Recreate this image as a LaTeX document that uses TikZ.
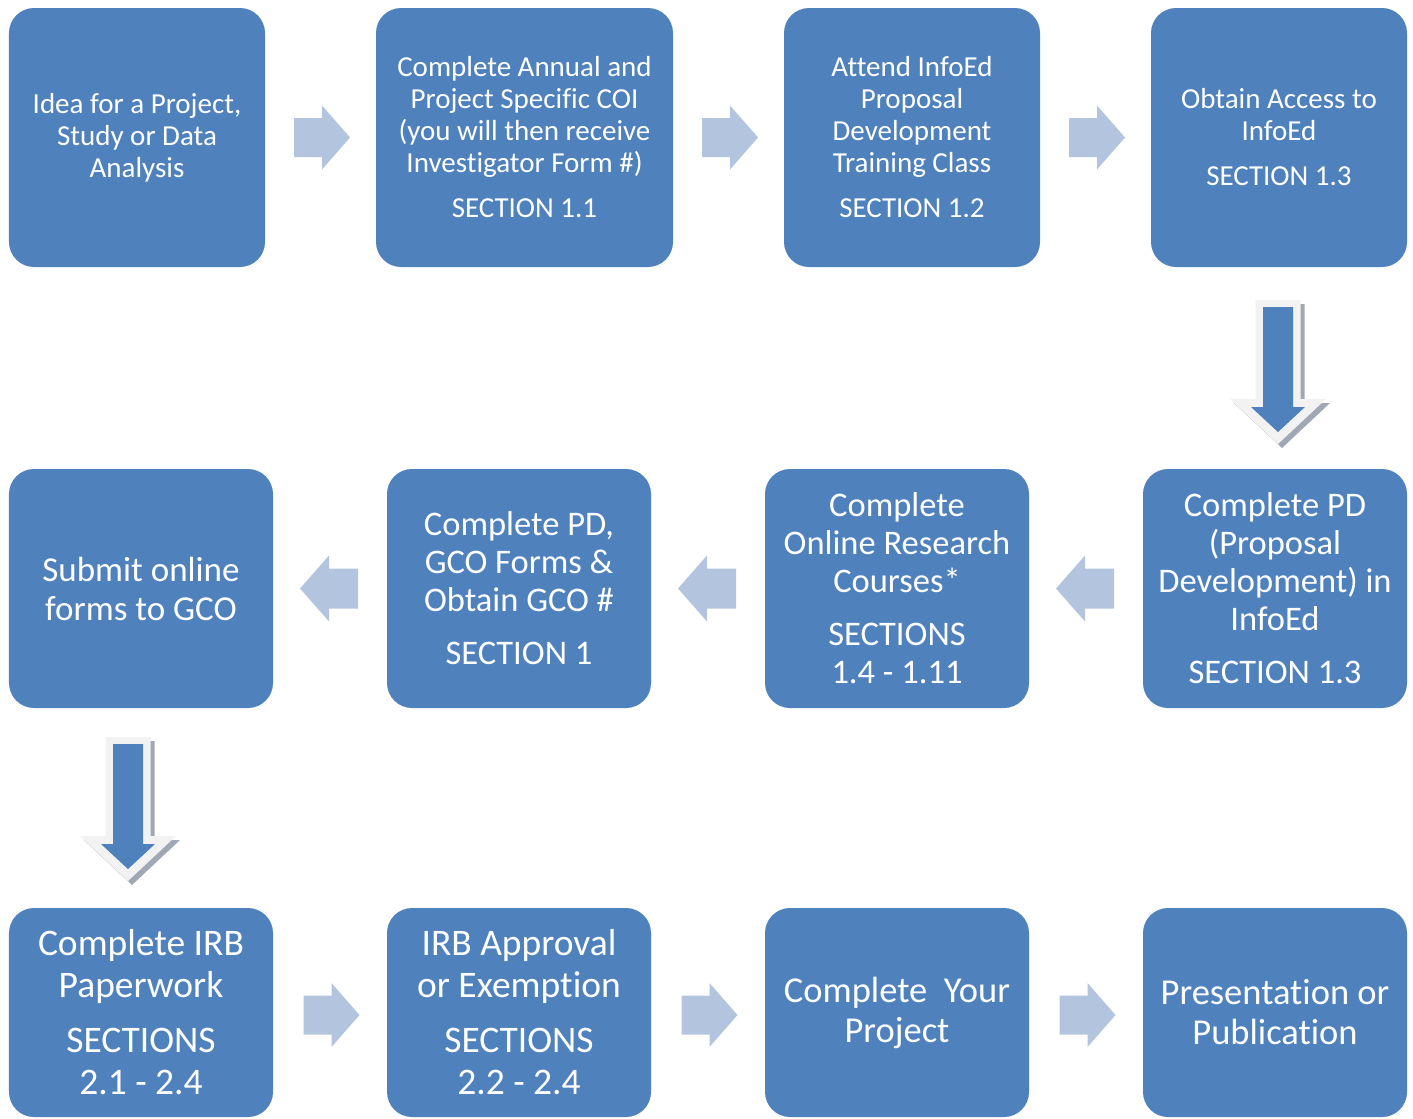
\documentclass[tikz,border=0pt]{standalone}
\usepackage{fontspec}
\setmainfont{Carlito}[Ligatures={NoCommon}]
\usetikzlibrary{calc}
\definecolor{boxblue}{RGB}{79,129,189}
\definecolor{arrowblue}{RGB}{179,196,222}
\definecolor{arrowrim}{RGB}{242,242,242}
\definecolor{arrowshadow}{RGB}{160,168,182}
\tikzset{
  box/.style={fill=boxblue, rounded corners=25bp, inner sep=0pt, text=white, align=center},
  rowA/.style={box, minimum height=259bp, font=\fontsize{29bp}{32bp}\selectfont},
  rowB/.style={box, minimum width=264bp, minimum height=239bp, font=\fontsize{34.5bp}{38bp}\selectfont},
  rowC/.style={box, minimum width=264bp, minimum height=209bp, font=\fontsize{37.5bp}{42bp}\selectfont},
  pics/rightarrow/.style={code={
    \fill[arrowblue] (-28,-19.5) -- (0,-19.5) -- (0,-32) -- (28,0) -- (0,32) -- (0,19.5) -- (-28,19.5) -- cycle;}},
  pics/leftarrow/.style={code={
    \fill[arrowblue] (29,-20) -- (0,-20) -- (0,-33) -- (-29,0) -- (0,33) -- (0,20) -- (29,20) -- cycle;}},
  pics/downarrow/.style={code={
    \fill[arrowshadow] ([shift={(4,4)}]-22.5,-72) -- ([shift={(4,4)}]22.5,-72) -- ([shift={(4,4)}]22.5,27) -- ([shift={(4,4)}]48,27) -- ([shift={(4,4)}]0,72) -- ([shift={(4,4)}]-48,27) -- ([shift={(4,4)}]-22.5,27) -- cycle;
    \fill[arrowrim] (-22.5,-72) -- (22.5,-72) -- (22.5,27) -- (48,27) -- (0,72) -- (-48,27) -- (-22.5,27) -- cycle;
    \fill[boxblue] (-15,-65) -- (15,-65) -- (15,35) -- (27,35) -- (0,60) -- (-27,35) -- (-15,35) -- cycle;}}
}
\begin{document}
\begin{tikzpicture}[x=1bp, y=-1bp]
\useasboundingbox (0,0) rectangle (1413,1118);
% row 1
\node[rowA, minimum width=256bp] (b1) at (137,137.5) {Idea for a Project,\\Study or Data\\Analysis};
\node[rowA, minimum width=297bp] (b2) at (524.5,137.5) {Complete Annual and\\Project Specific COI\\(you will then receive\\Investigator Form \#)\\[13bp]SECTION 1.1};
\node[rowA, minimum width=256bp] (b3) at (912,137.5) {Attend InfoEd\\Proposal\\Development\\Training Class\\[13bp]SECTION 1.2};
\node[rowA, minimum width=256bp] (b4) at (1279,137.5) {Obtain Access to\\InfoEd\\[13bp]SECTION 1.3};
% row 2
\node[rowB, font=\fontsize{35bp}{39bp}\selectfont] (c1) at (141,588.5) {Submit online\\forms to GCO};
\node[rowB] (c2) at (519,588.5) {Complete PD,\\GCO Forms \&\\Obtain GCO \#\\[15bp]SECTION 1};
\node[rowB] (c3) at (897,588.5) {Complete\\Online Research\\Courses*\\[15bp]SECTIONS\\1.4 - 1.11};
\node[rowB] (c4) at (1275,588.5) {Complete PD\\(Proposal\\Development) in\\InfoEd\\[15bp]SECTION 1.3};
% row 3
\node[rowC] (d1) at (141,1012.5) {Complete IRB\\Paperwork\\[13bp]SECTIONS\\2.1 - 2.4};
\node[rowC] (d2) at (519,1012.5) {IRB Approval\\or Exemption\\[13bp]SECTIONS\\2.2 - 2.4};
\node[rowC, font=\fontsize{36.5bp}{40bp}\selectfont] (d3) at (897,1012.5) {Complete\ \ Your\\Project};
\node[rowC, font=\fontsize{36.5bp}{40bp}\selectfont] (d4) at (1275,1012.5) {Presentation or\\Publication};
% arrows
\path ($(b1.east)!0.5!(b2.west)+(1.5,0)$) pic{rightarrow};
\path ($(b2.east)!0.5!(b3.west)+(1.5,0)$) pic{rightarrow};
\path ($(b3.east)!0.5!(b4.west)+(1.5,0)$) pic{rightarrow};
\path ($(b4.south)!0.5!(c4.north)+(1,4)$) pic{downarrow};
\path ($(c4.west)!0.5!(c3.east)+(-1,0)$) pic{leftarrow};
\path ($(c3.west)!0.5!(c2.east)+(-1,0)$) pic{leftarrow};
\path ($(c2.west)!0.5!(c1.east)+(-1,0)$) pic{leftarrow};
\path ($(c1.south)!0.5!(d1.north)+(-13,1)$) pic{downarrow};
\path ($(d1.east)!0.5!(d2.west)+(1.5,2.5)$) pic{rightarrow};
\path ($(d2.east)!0.5!(d3.west)+(1.5,2.5)$) pic{rightarrow};
\path ($(d3.east)!0.5!(d4.west)+(1.5,2.5)$) pic{rightarrow};
\end{tikzpicture}
\end{document}
